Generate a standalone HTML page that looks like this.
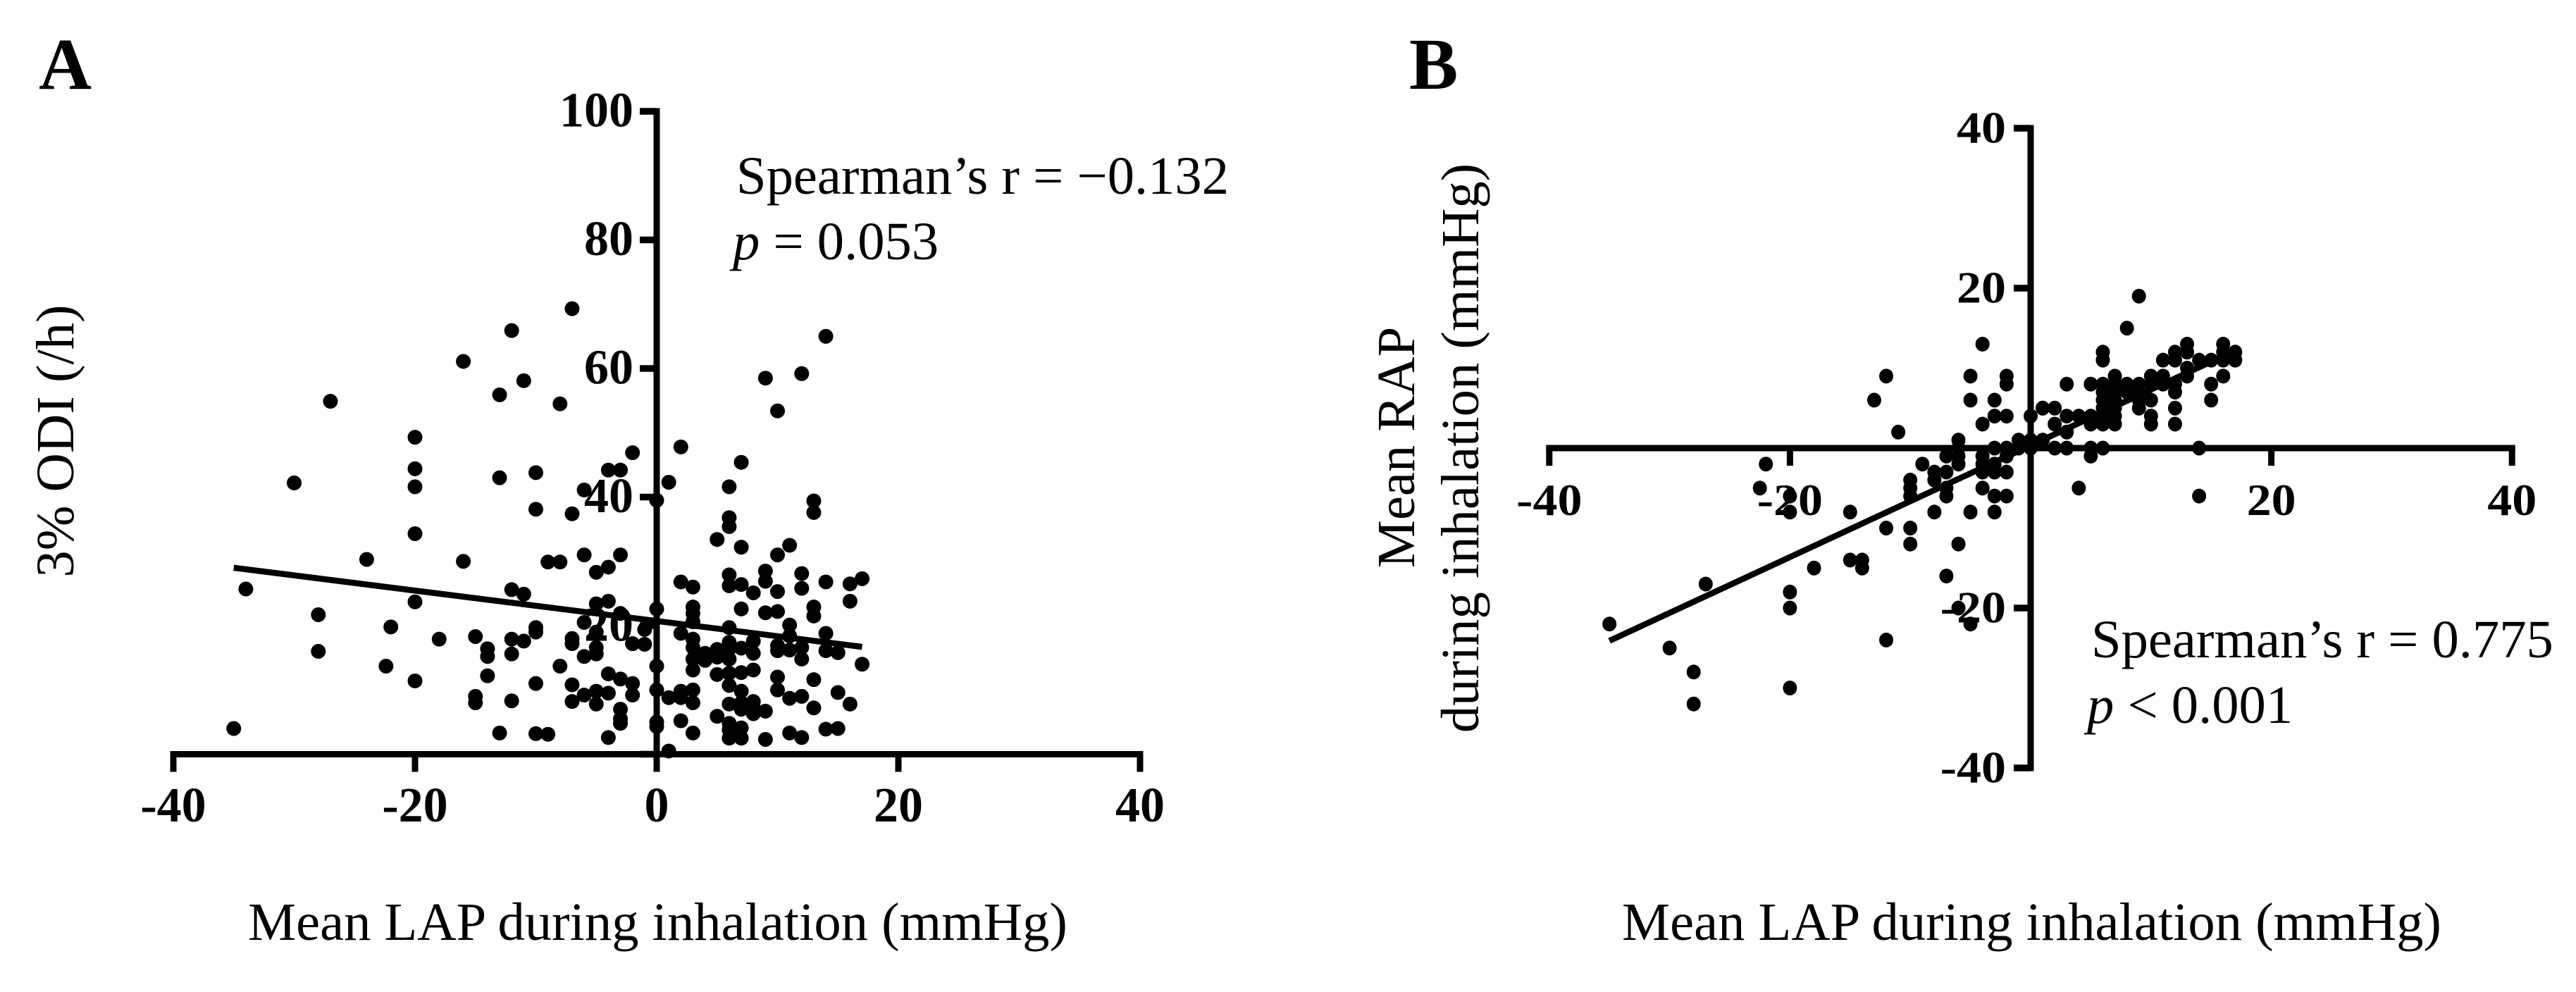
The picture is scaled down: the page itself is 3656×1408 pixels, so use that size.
<!DOCTYPE html>
<html lang="en">
<head>
<meta charset="utf-8">
<title>LAP correlation scatter plots</title>
<style>
  html, body { margin: 0; padding: 0; background: #fff; }
  svg { display: block; }
  text { font-family: "Liberation Serif", serif; fill: #000; }
  .tick { font-weight: bold; }
  .title { font-size: 76.6px; }
  .letter { font-size: 104px; font-weight: bold; }
</style>
</head>
<body>
<svg id="figure" xmlns="http://www.w3.org/2000/svg" width="3656" height="1408" viewBox="0 0 3656 1408">
  <rect x="0" y="0" width="3656" height="1408" fill="#fff"/>
  <text class="letter" x="55" y="126">A</text>
  <text class="letter" x="2000" y="126">B</text>

  <text class="title" x="352" y="1334">Mean LAP during inhalation (mmHg)</text>
  <text class="title" text-anchor="middle" transform="translate(104 626) rotate(-90)">3% ODI (/h)</text>
  <text class="title" x="1045" y="275">Spearman’s r = −0.132</text>
  <text class="title" x="1040" y="368"><tspan font-style="italic">p</tspan> = 0.053</text>

  <text class="title" x="2302" y="1334">Mean LAP during inhalation (mmHg)</text>
  <text class="title" text-anchor="middle" transform="translate(2007 635) rotate(-90)">Mean RAP</text>
  <text class="title" text-anchor="middle" transform="translate(2098 636) rotate(-90)">during inhalation (mmHg)</text>
  <text class="title" x="2968" y="933">Spearman’s r = 0.775</text>
  <text class="title" x="2962" y="1026"><tspan font-style="italic">p</tspan> &lt; 0.001</text>
</svg>
<script>
// Panel A data: mean LAP during inhalation (x) vs 3% ODI (y)
const panelAX = [
  -7,-12,-16,-11,-13,-8,-27,-20,-20,-20,
  -30,-13,-10,-10,-7,-6,-4,-3,-2,-20,
  -24,-16,-9,-8,-6,-5,-4,-3,-34,-20,
  -12,-11,-5,-4,-3,-28,-22,-18,-15,-10,
  -10,-12,-11,-14,-14,-12,-7,-7,-6,-5,
  -6,-5,-5,-2,-28,-22.4,-20,-14,-8,-10,
  -7,-7,-6,-5,-5,-4,-4,-3,-2,-2,
  -15,-15,-12,-3,-3,-3,-35,-13,-10,-9,
  -4,
  14,9,12,10,2,7,1,6,0,13,
  13,6,6,5,7,11,10,6,6,7,
  9,9,12,12,2,3,8,10,14,16,
  17,16,0,3,3,7,9,10,13,13,
  -1,-2,-1,2,3,6,11,14,8,11,
  3,3,6,6,5,4,7,8,10,10,
  11,12,12,14,15,3,4,5,6,17,
  0,3,5,6,7,8,10,13,6,10,
  0,2,3,7,15,1,2,11,12,3,
  6,7,8,7,8,8,9,16,13,5,
  0,0,2,6,7,6,14,15,3,11,
  12,6,7,9,1
];
const panelAY = [
  69.3,65.9,61.1,58.1,55.9,54.5,54.9,49.3,44.4,41.6,
  42.2,43,43.8,38.1,37.4,41.1,44.2,44.2,46.9,34.3,
  30.3,30,29.9,29.9,31,28.3,29.1,31,25.7,23.7,
  25.6,24.9,23.4,23.8,21.9,21.7,19.8,17.9,18.3,19.7,
  19,17.9,17.6,16.4,15.2,15.6,18,17.2,20.5,19,
  15.2,16.6,15.6,17.2,16,13.7,11.4,12.2,13.7,11,
  10.8,8.2,9.2,9.8,7.8,9.5,12.5,11.7,11,9.2,
  9,8,8.3,7,5.5,4.8,4,3.3,3.2,3.1,
  2.6,
  65,58.5,59.2,53.4,47.8,45.4,42.3,41.6,39.5,39.4,
  37.6,36.8,35.4,33.4,32.2,32.5,31,27.9,26.2,26.4,
  28.5,26.9,28.1,25.8,26.8,26,25.1,25.3,26.8,26.5,
  27.3,23.8,22.6,22.9,21.9,22.6,22,22.2,22.9,21.5,
  19.4,17.2,17.1,18.8,20.6,19.7,20.1,18.8,17.6,18.4,
  17.9,16.6,17.4,16.4,16.3,15.7,16.5,15.7,16.9,16.1,
  16.2,16.6,14.8,16.1,15.8,14.8,14.6,15.1,14.8,14,
  13.7,13.1,12.4,12.6,12.7,13.1,12,11.6,10.7,10,
  10,9.8,10,9.8,9.6,8.8,8.8,8.7,9,8,
  7.8,8,8.2,7,7.3,6.3,6.7,7.8,7.2,5.9,
  5,4.3,5.2,4.8,4.1,3.8,3.9,4,3.3,3.3,
  2.6,2.5,2.5,2.3,0.5
];
const panelAFitX = [-35, 17];
const panelAFitY = [29, 16.7];
const panelAXTicks = [-40, -20, 0, 20, 40];
const panelAYTicks = [0, 20, 40, 60, 80, 100];
const panelAXLabels = ["-40", "-20", "0", "20", "40"];
const panelAYLabels = ["", "20", "40", "60", "80", "100"];

// Panel B data: mean LAP during inhalation (x) vs mean RAP during inhalation (y)
const panelBX = [
  -4,-12,-5,-2,-2,-13,-5,-3,-3,-2,
  0,1,-4,-11,-6,-1,-3,-2,-6,-7,
  -6,-4,-2,0,-6,-4,-9,-22,-8,-7,
  -4,-3,-8,-10,-22.5,-10,-7,-4,-10,-7,
  -3,-2,-20,-20,-15,-8,-5,-3,-12,-10,
  -10,-6,-15,-14,-14,-18,-7,-27,-20,-20,
  -6,-5,-35,-30,-12,-28,-20,-28,-3,-2,
  9,8,6,6,13,12,11,12,13,16,
  17,17,16,14,15,16,13,13,16,15,
  15,3,5,6,7,7,8,9,10,11,
  10,11,12,12,6,7,8,9,6,7,
  9,10,9,12,10,10,12,6,7,6,
  7,5,4,3,1,2,2,3,5,6,
  7,2,3,5,6,5,14,4,14,1,
  -1,0
];
const panelBY = [
  13,9,9,9,8,6,6,6,4,4,
  4,5,3,2,1,1,0,0,0,-1,
  -1,-1,-1,0,-2,-2,-2,-2,-3,-3,
  -3,-3,-4,-4,-5,-5,-5,-5,-6,-6,
  -6,-6,-6,-8,-8,-8,-8,-8,-10,-10,
  -12,-12,-14,-14,-15,-15,-16,-17,-18,-20,
  -20,-22,-22,-25,-24,-28,-30,-32,-2,-3,
  19,15,12,11,13,12,11,11,12,13,
  12,11,12,11,11,11,10,9,9,8,
  6,8,8,8,9,8,8,8,9,9,
  8,8,8,7,7,7,7,7,6,6,
  6,6,5,5,4,3,3,5,5,4,
  4,4,4,4,5,5,3,2,3,3,
  3,0,0,0,0,-1,0,-5,-6,1,
  0,1
];
const panelBFitX = [-35, 17];
const panelBFitY = [-24.1, 12.2];
const panelBXTicks = [-40, -20, 20, 40];
const panelBYTicks = [-40, -20, 20, 40];
const panelBXLabels = ["-40", "-20", "20", "40"];
const panelBYLabels = ["-40", "-20", "20", "40"];

const svg = document.getElementById('figure');
const NS = 'http://www.w3.org/2000/svg';

function make(tag, name, parent) {
  const el = document.createElementNS(NS, tag);
  
  
  parent.appendChild(el);
  return el;
}

function line(parent, name, x1, y1, x2, y2, w) {
  const l = make('line', name, parent);
  l.setAttribute('x1', x1);
  l.setAttribute('y1', y1);
  l.setAttribute('x2', x2);
  l.setAttribute('y2', y2);
  l.setAttribute('stroke', '#000');
  l.setAttribute('stroke-width', w);
  return l;
}

function label(parent, name, x, y, str, anchor, size, yScale) {
  const t = make('text', name, parent);
  t.setAttribute('class', 'tick');
  t.setAttribute('transform', 'translate(' + x + ' ' + y + ') scale(1 ' + yScale + ')');
  t.setAttribute('text-anchor', anchor);
  t.setAttribute('font-size', size);
  t.textContent = str;
  return t;
}

function drawPanel(p) {
  const g = make('g', p.id, svg);
  const sx = v => p.x0 + v * p.xUnit;
  const sy = v => p.y0 - v * p.yUnit;

  const pts = make('g', p.id + '-points', g);
  p.xs.forEach((v, i) => {
    const c = make('ellipse', p.id + '-point', pts);
    c.setAttribute('cx', sx(v));
    c.setAttribute('cy', sy(p.ys[i]));
    c.setAttribute('rx', p.rx);
    c.setAttribute('ry', p.ry);
    c.setAttribute('fill', '#000');
  });

  line(g, p.id + '-fit-line', sx(p.fitX[0]), sy(p.fitY[0]), sx(p.fitX[1]), sy(p.fitY[1]), 8.5);

  // x axis
  const xMin = sx(p.xTicks[0]), xMax = sx(p.xTicks[p.xTicks.length - 1]);
  line(g, p.id + '-x-axis', xMin - 4.5, p.y0, xMax + 4.5, p.y0, 9);
  p.xTicks.forEach((v, i) => {
    line(g, p.id + '-x-tick', sx(v), p.y0, sx(v), p.y0 + 25, 9);
    label(g, p.id + '-x-tick-label', sx(v), p.xLabelY, p.xLabels[i], 'middle', p.fontSize, p.labelYScale);
  });

  // y axis
  const yTop = sy(p.yTicks[p.yTicks.length - 1]), yBottom = sy(p.yTicks[0]);
  line(g, p.id + '-y-axis', p.x0, yTop - 4.5, p.x0, yBottom + p.yAxisExtra, 9);
  p.yTicks.forEach((v, i) => {
    line(g, p.id + '-y-tick', p.x0, sy(v), p.x0 - 24, sy(v), 9.5);
    if (p.yLabels[i]) {
      label(g, p.id + '-y-tick-label', p.x0 - p.labelGap, sy(v) + p.labelDrop, p.yLabels[i], 'end', p.fontSize, p.labelYScale);
    }
  });
}

drawPanel({
  id: 'panel-a', x0: 932, y0: 1070.5, xUnit: 17.15, yUnit: 9.125, rx: 10.5, ry: 10.5,
  xs: panelAX, ys: panelAY, fitX: panelAFitX, fitY: panelAFitY,
  xTicks: panelAXTicks, yTicks: panelAYTicks, xLabels: panelAXLabels, yLabels: panelAYLabels,
  xLabelY: 1166, fontSize: 70, labelYScale: 1, labelGap: 33, labelDrop: 21.5, yAxisExtra: 23
});

drawPanel({
  id: 'panel-b', x0: 2882, y0: 636, xUnit: 17.08, yUnit: 11.35, rx: 10, ry: 10.5,
  xs: panelBX, ys: panelBY, fitX: panelBFitX, fitY: panelBFitY,
  xTicks: panelBXTicks, yTicks: panelBYTicks, xLabels: panelBXLabels, yLabels: panelBYLabels,
  xLabelY: 731, fontSize: 70, labelYScale: 0.9, labelGap: 35, labelDrop: 20.5, yAxisExtra: 4.5
});
</script>
</body>
</html>
